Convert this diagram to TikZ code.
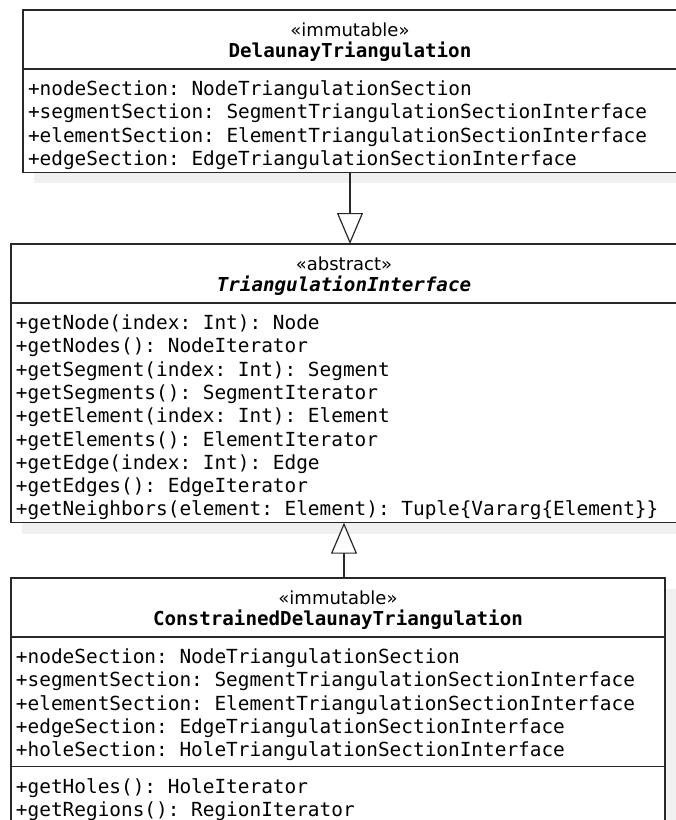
\documentclass[tikz,border=0pt]{standalone}
\usepackage{fontspec}
\setmonofont{DejaVu Sans Mono}
\newfontfamily\stereofont{DejaVu Sans}
\usepackage{tikz}
\usetikzlibrary{arrows.meta, positioning, calc, shadows}
\usepackage{xcolor}
\definecolor{umlLine}{RGB}{40, 40, 40}
\definecolor{umlShadow}{RGB}{240, 240, 240}

\begin{document}
\begin{tikzpicture}[
    x=1pt, y=-1pt,
    node distance=0pt,
    compart/.style={
        rectangle,
        anchor=north west,
        draw=umlLine,
        fill=white,
        line width=1.4pt,
        inner sep=0pt,
        outer sep=0pt,
        drop shadow={shadow xshift=11pt, shadow yshift=-11pt, fill=umlShadow, opacity=1}
    },
    stereo/.style={
        anchor=base,
        inner sep=0pt,
        font=\stereofont\fontsize{18}{22}\selectfont
    },
    clsname/.style={
        anchor=base,
        inner sep=0pt,
        font=\fontsize{19.2}{23}\selectfont\ttfamily\bfseries
    },
    member/.style={
        anchor=north west,
        inner xsep=0pt,
        inner ysep=2pt,
        outer sep=0pt,
        text height=14.5pt,
        text depth=4.8pt,
        font=\fontsize{19.4}{23}\selectfont\ttfamily
    },
    inherit/.style={
        draw=umlLine,
        line width=1.2pt,
        -{Triangle[length=31pt, width=26pt, fill=white]}
    }
]

\useasboundingbox (0,0) rectangle (676,820);
\fill[white] (0,0) rectangle (676,820);
\clip (0,0) rectangle (676,820);

% DelaunayTriangulation
\node[compart, minimum width=654, minimum height=59] (dtHead) at (23,10) {};
\node[compart, minimum width=654, minimum height=103.2, below=of dtHead] (dtAttr) {};
\node[stereo] (dtStereo) at ($(dtHead.north)+(0,26)$) {«immutable»};
\node[clsname] (dtName) at ($(dtHead.north)+(0,47)$) {DelaunayTriangulation};

\node[member] (dtNode) at ($(dtAttr.north west)+(5,10)$) {+nodeSection: NodeTriangulationSection};
\node[member, below=of dtNode.south west, anchor=north west] (dtSeg) {+segmentSection: SegmentTriangulationSectionInterface};
\node[member, below=of dtSeg.south west, anchor=north west] (dtElem) {+elementSection: ElementTriangulationSectionInterface};
\node[member, below=of dtElem.south west, anchor=north west] (dtEdge) {+edgeSection: EdgeTriangulationSectionInterface};

% TriangulationInterface
\node[compart, minimum width=666, minimum height=59] (tiHead) at (11,244) {};
\node[compart, minimum width=666, minimum height=219.7, below=of tiHead] (tiAttr) {};
\node[stereo] (tiStereo) at ($(tiHead.north)+(0,26)$) {«abstract»};
\node[clsname, font=\fontsize{19.2}{23}\selectfont\ttfamily\bfseries\itshape] (tiName) at ($(tiHead.north)+(0,47)$) {TriangulationInterface};

\node[member] (tiNode) at ($(tiAttr.north west)+(5,10)$) {+getNode(index: Int): Node};
\node[member, below=of tiNode.south west, anchor=north west] (tiNodes) {+getNodes(): NodeIterator};
\node[member, below=of tiNodes.south west, anchor=north west] (tiSeg) {+getSegment(index: Int): Segment};
\node[member, below=of tiSeg.south west, anchor=north west] (tiSegs) {+getSegments(): SegmentIterator};
\node[member, below=of tiSegs.south west, anchor=north west] (tiElem) {+getElement(index: Int): Element};
\node[member, below=of tiElem.south west, anchor=north west] (tiElems) {+getElements(): ElementIterator};
\node[member, below=of tiElems.south west, anchor=north west] (tiEdge) {+getEdge(index: Int): Edge};
\node[member, below=of tiEdge.south west, anchor=north west] (tiEdges) {+getEdges(): EdgeIterator};
\node[member, below=of tiEdges.south west, anchor=north west] (tiNeigh) {+getNeighbors(element: Element): Tuple\{Vararg\{Element\}\}};

% ConstrainedDelaunayTriangulation
\node[compart, minimum width=654, minimum height=59] (cdHead) at (11,578) {};
\node[compart, minimum width=654, minimum height=129.5, below=of cdHead] (cdAttr) {};
\node[compart, minimum width=654, minimum height=80, below=of cdAttr] (cdOper) {};
\node[stereo] (cdStereo) at ($(cdHead.north)+(0,26)$) {«immutable»};
\node[clsname] (cdName) at ($(cdHead.north)+(0,47)$) {ConstrainedDelaunayTriangulation};

\node[member] (cdNode) at ($(cdAttr.north west)+(5,10)$) {+nodeSection: NodeTriangulationSection};
\node[member, below=of cdNode.south west, anchor=north west] (cdSeg) {+segmentSection: SegmentTriangulationSectionInterface};
\node[member, below=of cdSeg.south west, anchor=north west] (cdElem) {+elementSection: ElementTriangulationSectionInterface};
\node[member, below=of cdElem.south west, anchor=north west] (cdEdge) {+edgeSection: EdgeTriangulationSectionInterface};
\node[member, below=of cdEdge.south west, anchor=north west] (cdHole) {+holeSection: HoleTriangulationSectionInterface};

\node[member] (cdHoles) at ($(cdOper.north west)+(5,10)$) {+getHoles(): HoleIterator};
\node[member, below=of cdHoles.south west, anchor=north west] (cdRegions) {+getRegions(): RegionIterator};

% Generalizations
\draw[inherit] (dtAttr.south) -- (dtAttr.south |- tiHead.north);
\draw[inherit] (cdHead.north -| tiAttr.south) -- (tiAttr.south);

\end{tikzpicture}
\end{document}
